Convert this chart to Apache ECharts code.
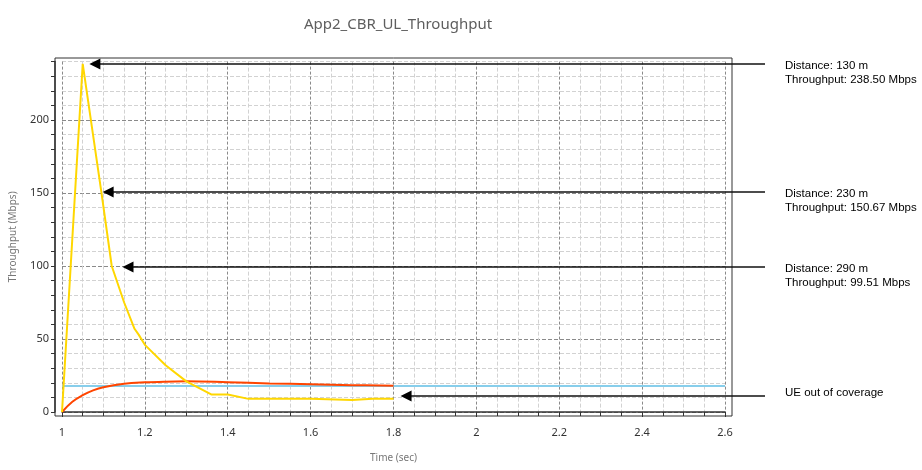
<!DOCTYPE html>
<html>
<head>
<meta charset="utf-8">
<script src="https://cdn.jsdelivr.net/npm/echarts@6/dist/echarts.min.js"></script>
<style>
html, body { margin: 0; padding: 0; background: #fff; }
#chart { width: 922px; height: 470px; }
</style>
</head>
<body>
<div id="chart"></div>
<script>
// values
var yellowTime = [1, 1.05, 1.095, 1.12, 1.15, 1.175, 1.185, 1.2, 1.25, 1.3, 1.36, 1.4, 1.45, 1.5, 1.6, 1.7, 1.75, 1.8];
var yellowTput = [0, 238.5, 150.67, 100, 75, 57, 53, 46, 32, 21, 12, 12, 9, 9, 9, 8.3, 9, 9];
var redTime = [1, 1.025, 1.05, 1.075, 1.1, 1.15, 1.2, 1.25, 1.3, 1.4, 1.5, 1.6, 1.7, 1.8];
var redTput = [0, 7, 11.5, 14.8, 17, 19.3, 20.3, 20.8, 21, 20.4, 19.6, 19, 18.4, 18];
var blueTime = [1, 2.6];
var blueTput = [17.8, 17.8];

// annotations: where each arrow points and its text
var noteTime = [1.066, 1.098, 1.146, 1.817];
var noteTput = [238.5, 150.67, 99.51, 11];
var noteText = [
	'Distance: 130 m\nThroughput: 238.50 Mbps',
	'Distance: 230 m\nThroughput: 150.67 Mbps',
	'Distance: 290 m\nThroughput: 99.51 Mbps',
	'UE out of coverage'
];

function pairs(xs, ys) {
	return xs.map(function (x, i) { return [x, ys[i]]; });
}

var chart = echarts.init(document.getElementById('chart'));
var uiFont = '"Noto Sans", "Open Sans", sans-serif';

var option = {
	animation: false,
	backgroundColor: '#fff',
	title: {
		text: 'App2_CBR_UL_Throughput',
		left: 393,
		top: 12,
		textAlign: 'center',
		textStyle: { color: '#5e5e5e', fontSize: 15, fontWeight: 'normal', fontFamily: uiFont }
	},
	grid: { left: 61, right: 197, top: 61.6, bottom: 58 },
	xAxis: {
		type: 'value',
		min: 1,
		max: 2.6,
		interval: 0.2,
		offset: 4,
		name: 'Time (sec)',
		nameLocation: 'middle',
		nameGap: 37,
		nameTextStyle: { color: '#777', fontSize: 10, fontFamily: uiFont },
		axisLine: { lineStyle: { color: '#333', width: 1.5 } },
		axisTick: { length: 5, lineStyle: { color: '#333' } },
		minorTick: { show: true, splitNumber: 4, length: 4, lineStyle: { color: '#333' } },
		axisLabel: {
			color: '#333', fontSize: 11, fontFamily: uiFont, margin: 11,
			formatter: function (v) { return +v.toFixed(1); }
		},
		splitLine: { show: true, lineStyle: { color: '#8a8a8a', type: [3, 2] } },
		minorSplitLine: { show: true, lineStyle: { color: '#d2d2d2', type: [4, 2] } }
	},
	yAxis: {
		type: 'value',
		min: 0,
		max: 240,
		interval: 10,
		offset: 7,
		name: 'Throughput (Mbps)',
		nameLocation: 'middle',
		nameGap: 37,
		nameTextStyle: { color: '#777', fontSize: 10, fontFamily: uiFont },
		axisLine: { show: true, lineStyle: { color: '#333', width: 1.5 } },
		axisTick: { show: true, length: 4, lineStyle: { color: '#333' } },
		axisLabel: {
			color: '#333', fontSize: 11, fontFamily: uiFont, margin: 6,
			formatter: function (v) { return v % 50 === 0 ? v : ''; }
		},
		splitLine: {
			show: true,
			lineStyle: {
				color: ['#8a8a8a', '#d2d2d2', '#d2d2d2', '#d2d2d2', '#d2d2d2'],
				type: [4, 2]
			}
		}
	},
	series: [
		{
			name: 'Reference',
			type: 'line',
			data: pairs(blueTime, blueTput),
			showSymbol: false,
			lineStyle: { color: '#87ceeb', width: 1.8 },
			z: 3
		},
		{
			name: 'Average',
			type: 'line',
			data: pairs(redTime, redTput),
			showSymbol: false,
			smooth: 0.4,
			lineStyle: { color: '#ff4500', width: 2 },
			z: 4
		},
		{
			name: 'Throughput',
			type: 'line',
			data: pairs(yellowTime, yellowTput),
			showSymbol: false,
			lineStyle: { color: '#ffd700', width: 2 },
			z: 5
		}
	]
};

chart.setOption(option);

// plot frame and arrows, placed through the axes
var tl = chart.convertToPixel({ gridIndex: 0 }, [1, 240]);
var br = chart.convertToPixel({ gridIndex: 0 }, [2.6, 0]);
var graphics = [{
	type: 'rect',
	shape: { x: tl[0] - 7, y: tl[1] - 3.6, width: br[0] - tl[0] + 14, height: br[1] - tl[1] + 7.6 },
	style: { fill: 'none', stroke: '#333', lineWidth: 1 },
	z: 10
}];

noteTime.forEach(function (t, i) {
	var p = chart.convertToPixel({ gridIndex: 0 }, [t, noteTput[i]]);
	var x = p[0], y = Math.round(p[1]);
	graphics.push({
		type: 'line',
		shape: { x1: x + 10, y1: y, x2: 765, y2: y },
		style: { stroke: '#111', lineWidth: 1.6 },
		z: 20
	});
	graphics.push({
		type: 'polygon',
		shape: { points: [[x, y], [x + 11, y - 5.5], [x + 11, y + 5.5]] },
		style: { fill: '#000' },
		z: 20
	});
	var multi = noteText[i].indexOf('\n') >= 0;
	graphics.push({
		type: 'text',
		x: 785,
		y: multi ? y - 5 : y - 10,
		style: {
			text: noteText[i],
			fill: '#000',
			font: '11.5px "Liberation Sans", Arial, sans-serif',
			lineHeight: 14,
			verticalAlign: 'top'
		},
		z: 20
	});
});

chart.setOption({ graphic: graphics });
</script>
</body>
</html>
